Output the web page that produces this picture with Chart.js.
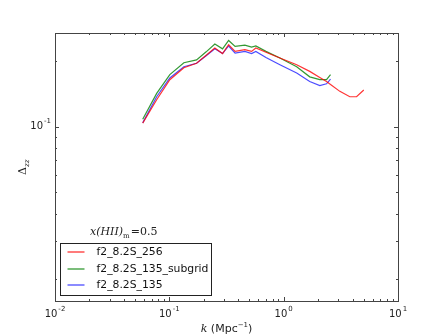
<!DOCTYPE html>
<html>
<head>
<meta charset="utf-8">
<script src="https://cdn.jsdelivr.net/npm/chart.js@4"></script>
<style>
  html, body { margin: 0; padding: 0; background: #fff; }
  #wrap { width: 443px; height: 335px; }
</style>
</head>
<body>
<div id="wrap"><canvas id="chart" width="443" height="335"></canvas></div>
<script>
// k values (Mpc^-1) shared by the three runs, red run goes further
const kValues = [0.0585, 0.0775, 0.101, 0.134, 0.173, 0.21, 0.25, 0.292, 0.33, 0.376, 0.458, 0.524, 0.571, 0.70, 0.927, 1.30, 1.69, 2.07, 2.37, 2.57];
const kRedExtra = [3.10, 3.79, 4.34, 5.02];

const red256 = [0.1037, 0.1327, 0.164, 0.186, 0.195, 0.212, 0.229, 0.216, 0.237, 0.221, 0.225, 0.221, 0.229, 0.219, 0.206, 0.192, 0.179, 0.168, 0.161, 0.156, 0.145, 0.137, 0.137, 0.147];
const green135sub = [0.108, 0.142, 0.173, 0.196, 0.202, 0.220, 0.239, 0.227, 0.248, 0.233, 0.236, 0.231, 0.234, 0.221, 0.206, 0.188, 0.169, 0.164, 0.164, 0.173];
const blue135 = [0.104, 0.137, 0.167, 0.188, 0.195, 0.211, 0.227, 0.216, 0.234, 0.217, 0.221, 0.216, 0.221, 0.207, 0.192, 0.176, 0.161, 0.154, 0.157, 0.165];

const seriesNames = ["f2_8.2S_256", "f2_8.2S_135_subgrid", "f2_8.2S_135"];
const seriesColors = ["rgba(255,0,0,0.8)", "rgba(0,128,0,0.8)", "rgba(0,0,255,0.7)"];

const xDecades = [0.01, 0.1, 1, 10];
const yDecades = [0.1];

function toPoints(ks, vals) {
  return vals.map((v, i) => ({ x: ks[i], y: v }));
}
const kRed = kValues.concat(kRedExtra);

// draws matplotlib-like frame, inward ticks, labels, legend
const mplPlugin = {
  id: "mpl",
  afterDraw(chart) {
    const ctx = chart.ctx;
    const a = chart.chartArea;
    const xs = chart.scales.x, ys = chart.scales.y;
    ctx.save();
    ctx.strokeStyle = "#444";
    ctx.lineWidth = 1;
    ctx.strokeRect(Math.round(a.left) + 0.5, Math.round(a.top) + 0.5, Math.round(a.right - a.left), Math.round(a.bottom - a.top));

    // ticks
    ctx.beginPath();
    for (let e = -2; e <= 1; e++) {
      for (let m = 1; m <= 9; m++) {
        const v = m * Math.pow(10, e);
        if (v < xs.min || v > xs.max) continue;
        const px = Math.round(xs.getPixelForValue(v)) + 0.5;
        const len = m === 1 ? 4 : 2;
        ctx.moveTo(px, a.bottom); ctx.lineTo(px, a.bottom - len);
        ctx.moveTo(px, a.top); ctx.lineTo(px, a.top + len);
      }
    }
    for (let e = -2; e <= 0; e++) {
      for (let m = 1; m <= 9; m++) {
        const v = m * Math.pow(10, e);
        if (v < ys.min || v > ys.max) continue;
        const py = Math.round(ys.getPixelForValue(v)) + 0.5;
        const len = m === 1 ? 4 : 2;
        ctx.moveTo(a.left, py); ctx.lineTo(a.left + len, py);
        ctx.moveTo(a.right, py); ctx.lineTo(a.right - len, py);
      }
    }
    ctx.stroke();

    // tick labels 10^n
    ctx.fillStyle = "#222";
    function powLabel(x, y, exp, align) {
      ctx.font = "10px 'DejaVu Sans'";
      const base = "10";
      const bw = ctx.measureText(base).width;
      ctx.font = "7px 'DejaVu Sans'";
      const ew = ctx.measureText(exp).width;
      const tw = bw + ew + 1;
      let x0 = align === "right" ? x - tw : x - tw / 2;
      ctx.textBaseline = "middle";
      ctx.textAlign = "left";
      ctx.font = "10px 'DejaVu Sans'";
      ctx.fillText(base, x0, y);
      ctx.font = "7px 'DejaVu Sans'";
      ctx.fillText(exp, x0 + bw + 1, y - 5);
    }
    xDecades.forEach(v => {
      const e = Math.round(Math.log10(v));
      powLabel(xs.getPixelForValue(v), a.bottom + 13, e < 0 ? "-" + (-e) : String(e), "center");
    });
    yDecades.forEach(v => {
      const e = Math.round(Math.log10(v));
      powLabel(a.left - 4, ys.getPixelForValue(v), e < 0 ? "-" + (-e) : String(e), "right");
    });

    // x axis title: k (Mpc^-1)
    ctx.textBaseline = "alphabetic";
    ctx.font = "italic 11px 'DejaVu Serif'";
    const kw = ctx.measureText("k").width;
    ctx.font = "11px 'DejaVu Sans'";
    const mw = ctx.measureText(" (Mpc").width;
    const pw = ctx.measureText(")").width;
    ctx.font = "7px 'DejaVu Sans'";
    const sw = ctx.measureText("\u22121").width;
    let tx = (a.left + a.right) / 2 - (kw + mw + sw + pw) / 2;
    const ty = 332;
    ctx.font = "italic 11px 'DejaVu Serif'";
    ctx.fillText("k", tx, ty); tx += kw;
    ctx.font = "11px 'DejaVu Sans'";
    ctx.fillText(" (Mpc", tx, ty); tx += mw;
    ctx.font = "7px 'DejaVu Sans'";
    ctx.fillText("\u22121", tx, ty - 5); tx += sw;
    ctx.font = "11px 'DejaVu Sans'";
    ctx.fillText(")", tx, ty);

    // y axis title: Delta_xx
    ctx.save();
    ctx.translate(26, (a.top + a.bottom) / 2 + 8);
    ctx.rotate(-Math.PI / 2);
    ctx.font = "11px 'DejaVu Serif'";
    ctx.fillText("\u0394", 0, 0);
    const dw = ctx.measureText("\u0394").width;
    ctx.font = "italic 7px 'DejaVu Serif'";
    ctx.fillText("zz", dw, 3);
    ctx.restore();

    // annotation x(HII)_m = 0.5
    let ax = a.left + 35;
    const ay = a.top + 202;
    ctx.font = "italic 11px 'DejaVu Serif'";
    ctx.fillText("x(HII)", ax, ay); ax += ctx.measureText("x(HII)").width;
    ctx.font = "7px 'DejaVu Serif'";
    ctx.fillText("m", ax, ay + 3); ax += ctx.measureText("m").width + 1;
    ctx.font = "11px 'DejaVu Serif'";
    ctx.fillText("=0.5", ax, ay);

    // legend box
    const lx = a.left + 5.5, ly = a.top + 210.5, lw = 151, lh = 52;
    ctx.fillStyle = "#fff";
    ctx.fillRect(lx, ly, lw, lh);
    ctx.strokeStyle = "#222";
    ctx.strokeRect(lx, ly, lw, lh);
    ctx.font = "10.8px 'DejaVu Sans'";
    ctx.textBaseline = "middle";
    ctx.lineWidth = 1.3;
    for (let i = 0; i < seriesNames.length; i++) {
      const yy = Math.round(ly + 8.5 + i * 16.5);
      ctx.beginPath();
      ctx.strokeStyle = seriesColors[i];
      ctx.moveTo(lx + 7, yy);
      ctx.lineTo(lx + 24, yy);
      ctx.stroke();
      ctx.fillStyle = "#111";
      ctx.fillText(seriesNames[i], lx + 36, yy);
    }
    ctx.restore();
  }
};

new Chart(document.getElementById("chart"), {
  type: "line",
  data: {
    datasets: [
      { label: seriesNames[0], data: toPoints(kRed, red256), borderColor: seriesColors[0] },
      { label: seriesNames[1], data: toPoints(kValues, green135sub), borderColor: seriesColors[1] },
      { label: seriesNames[2], data: toPoints(kValues, blue135), borderColor: seriesColors[2] }
    ]
  },
  options: {
    responsive: false,
    animation: false,
    layout: { padding: { left: 55, right: 45, top: 33, bottom: 34 } },
    elements: { point: { radius: 0 }, line: { borderWidth: 1.2, tension: 0 } },
    plugins: { legend: { display: false }, tooltip: { enabled: false } },
    scales: {
      x: { type: "logarithmic", min: 0.01, max: 10, display: false },
      y: { type: "logarithmic", min: 0.0159, max: 0.2683, display: false }
    }
  },
  plugins: [mplPlugin]
});
</script>
</body>
</html>
